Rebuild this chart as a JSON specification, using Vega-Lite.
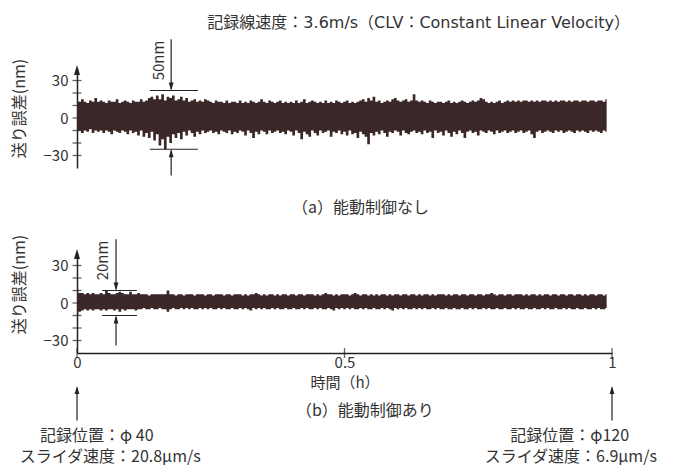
{
"$schema": "https://vega.github.io/schema/vega-lite/v6.json",
"padding": {"left": 11, "top": 14, "right": 5, "bottom": 5},
"background": "white",
"bounds": "flush",
"spacing": 85,
"config": {"view": {"stroke": null}, "font": "Noto Sans CJK JP", "axis": {"labelFont": "Noto Sans CJK JP", "titleFont": "Noto Sans CJK JP", "grid": false}, "text": {"font": "Noto Sans CJK JP", "fontSize": 16, "color": "#333"}},
"datasets": {
"a": [{"t":0,"hi":14,"lo":-11},{"t":0.005,"hi":13,"lo":-10},{"t":0.01,"hi":15,"lo":-12},{"t":0.015,"hi":13,"lo":-10},{"t":0.02,"hi":12,"lo":-11},{"t":0.025,"hi":14,"lo":-9},{"t":0.03,"hi":13,"lo":-12},{"t":0.035,"hi":16,"lo":-10},{"t":0.04,"hi":13,"lo":-11},{"t":0.045,"hi":14,"lo":-10},
{"t":0.05,"hi":13,"lo":-12},{"t":0.055,"hi":12,"lo":-10},{"t":0.06,"hi":14,"lo":-11},{"t":0.065,"hi":13,"lo":-13},{"t":0.07,"hi":13,"lo":-10},{"t":0.075,"hi":15,"lo":-11},{"t":0.08,"hi":12,"lo":-12},{"t":0.085,"hi":13,"lo":-10},{"t":0.09,"hi":14,"lo":-11},{"t":0.095,"hi":13,"lo":-13},
{"t":0.1,"hi":12,"lo":-10},{"t":0.105,"hi":14,"lo":-12},{"t":0.11,"hi":13,"lo":-11},{"t":0.115,"hi":13,"lo":-14},{"t":0.12,"hi":15,"lo":-10},{"t":0.125,"hi":13,"lo":-15},{"t":0.13,"hi":14,"lo":-12},{"t":0.135,"hi":16,"lo":-16},{"t":0.14,"hi":17,"lo":-11},{"t":0.145,"hi":15,"lo":-18},
{"t":0.15,"hi":18,"lo":-13},{"t":0.155,"hi":15,"lo":-22},{"t":0.16,"hi":19,"lo":-17},{"t":0.165,"hi":14,"lo":-25},{"t":0.17,"hi":17,"lo":-15},{"t":0.175,"hi":16,"lo":-20},{"t":0.18,"hi":18,"lo":-13},{"t":0.185,"hi":14,"lo":-16},{"t":0.19,"hi":15,"lo":-12},{"t":0.195,"hi":17,"lo":-17},
{"t":0.2,"hi":14,"lo":-11},{"t":0.205,"hi":16,"lo":-14},{"t":0.21,"hi":13,"lo":-10},{"t":0.215,"hi":14,"lo":-12},{"t":0.22,"hi":15,"lo":-15},{"t":0.225,"hi":13,"lo":-11},{"t":0.23,"hi":14,"lo":-13},{"t":0.235,"hi":13,"lo":-10},{"t":0.24,"hi":15,"lo":-12},{"t":0.245,"hi":14,"lo":-11},
{"t":0.25,"hi":13,"lo":-10},{"t":0.255,"hi":12,"lo":-12},{"t":0.26,"hi":14,"lo":-11},{"t":0.265,"hi":13,"lo":-13},{"t":0.27,"hi":13,"lo":-10},{"t":0.275,"hi":12,"lo":-11},{"t":0.28,"hi":14,"lo":-12},{"t":0.285,"hi":12,"lo":-10},{"t":0.29,"hi":13,"lo":-13},{"t":0.295,"hi":13,"lo":-11},
{"t":0.3,"hi":12,"lo":-12},{"t":0.305,"hi":14,"lo":-10},{"t":0.31,"hi":12,"lo":-11},{"t":0.315,"hi":13,"lo":-14},{"t":0.32,"hi":12,"lo":-10},{"t":0.325,"hi":14,"lo":-12},{"t":0.33,"hi":13,"lo":-16},{"t":0.335,"hi":12,"lo":-11},{"t":0.34,"hi":13,"lo":-13},{"t":0.345,"hi":15,"lo":-10},
{"t":0.35,"hi":13,"lo":-11},{"t":0.355,"hi":12,"lo":-13},{"t":0.36,"hi":14,"lo":-10},{"t":0.365,"hi":13,"lo":-12},{"t":0.37,"hi":12,"lo":-11},{"t":0.375,"hi":13,"lo":-10},{"t":0.38,"hi":14,"lo":-12},{"t":0.385,"hi":12,"lo":-11},{"t":0.39,"hi":13,"lo":-13},{"t":0.395,"hi":12,"lo":-10},
{"t":0.4,"hi":13,"lo":-11},{"t":0.405,"hi":12,"lo":-14},{"t":0.41,"hi":14,"lo":-10},{"t":0.415,"hi":12,"lo":-12},{"t":0.42,"hi":13,"lo":-17},{"t":0.425,"hi":15,"lo":-11},{"t":0.43,"hi":12,"lo":-13},{"t":0.435,"hi":13,"lo":-15},{"t":0.44,"hi":14,"lo":-10},{"t":0.445,"hi":13,"lo":-12},
{"t":0.45,"hi":12,"lo":-14},{"t":0.455,"hi":13,"lo":-10},{"t":0.46,"hi":12,"lo":-12},{"t":0.465,"hi":14,"lo":-11},{"t":0.47,"hi":12,"lo":-10},{"t":0.475,"hi":13,"lo":-15},{"t":0.48,"hi":12,"lo":-11},{"t":0.485,"hi":14,"lo":-12},{"t":0.49,"hi":13,"lo":-10},{"t":0.495,"hi":12,"lo":-13},
{"t":0.5,"hi":13,"lo":-11},{"t":0.505,"hi":14,"lo":-14},{"t":0.51,"hi":12,"lo":-10},{"t":0.515,"hi":13,"lo":-13},{"t":0.52,"hi":12,"lo":-12},{"t":0.525,"hi":13,"lo":-16},{"t":0.53,"hi":14,"lo":-11},{"t":0.535,"hi":15,"lo":-13},{"t":0.54,"hi":13,"lo":-15},{"t":0.545,"hi":16,"lo":-21},
{"t":0.55,"hi":14,"lo":-12},{"t":0.555,"hi":17,"lo":-14},{"t":0.56,"hi":13,"lo":-11},{"t":0.565,"hi":14,"lo":-13},{"t":0.57,"hi":12,"lo":-10},{"t":0.575,"hi":13,"lo":-12},{"t":0.58,"hi":14,"lo":-15},{"t":0.585,"hi":13,"lo":-11},{"t":0.59,"hi":15,"lo":-12},{"t":0.595,"hi":16,"lo":-10},
{"t":0.6,"hi":14,"lo":-11},{"t":0.605,"hi":13,"lo":-14},{"t":0.61,"hi":14,"lo":-10},{"t":0.615,"hi":15,"lo":-12},{"t":0.62,"hi":13,"lo":-13},{"t":0.625,"hi":14,"lo":-11},{"t":0.63,"hi":19,"lo":-10},{"t":0.635,"hi":14,"lo":-12},{"t":0.64,"hi":13,"lo":-11},{"t":0.645,"hi":14,"lo":-13},
{"t":0.65,"hi":13,"lo":-10},{"t":0.655,"hi":12,"lo":-12},{"t":0.66,"hi":14,"lo":-11},{"t":0.665,"hi":13,"lo":-16},{"t":0.67,"hi":12,"lo":-10},{"t":0.675,"hi":13,"lo":-12},{"t":0.68,"hi":13,"lo":-11},{"t":0.685,"hi":12,"lo":-14},{"t":0.69,"hi":13,"lo":-10},{"t":0.695,"hi":14,"lo":-12},
{"t":0.7,"hi":12,"lo":-15},{"t":0.705,"hi":13,"lo":-11},{"t":0.71,"hi":12,"lo":-13},{"t":0.715,"hi":13,"lo":-10},{"t":0.72,"hi":14,"lo":-12},{"t":0.725,"hi":13,"lo":-16},{"t":0.73,"hi":12,"lo":-11},{"t":0.735,"hi":13,"lo":-10},{"t":0.74,"hi":14,"lo":-12},{"t":0.745,"hi":13,"lo":-11},
{"t":0.75,"hi":14,"lo":-14},{"t":0.755,"hi":16,"lo":-10},{"t":0.76,"hi":15,"lo":-11},{"t":0.765,"hi":13,"lo":-12},{"t":0.77,"hi":12,"lo":-10},{"t":0.775,"hi":13,"lo":-11},{"t":0.78,"hi":12,"lo":-13},{"t":0.785,"hi":13,"lo":-10},{"t":0.79,"hi":14,"lo":-12},{"t":0.795,"hi":12,"lo":-11},
{"t":0.8,"hi":13,"lo":-10},{"t":0.805,"hi":14,"lo":-12},{"t":0.81,"hi":13,"lo":-11},{"t":0.815,"hi":14,"lo":-10},{"t":0.82,"hi":13,"lo":-12},{"t":0.825,"hi":14,"lo":-11},{"t":0.83,"hi":13,"lo":-10},{"t":0.835,"hi":14,"lo":-12},{"t":0.84,"hi":14,"lo":-11},{"t":0.845,"hi":13,"lo":-10},
{"t":0.85,"hi":14,"lo":-13},{"t":0.855,"hi":13,"lo":-16},{"t":0.86,"hi":14,"lo":-11},{"t":0.865,"hi":13,"lo":-10},{"t":0.87,"hi":14,"lo":-12},{"t":0.875,"hi":14,"lo":-11},{"t":0.88,"hi":13,"lo":-10},{"t":0.885,"hi":14,"lo":-11},{"t":0.89,"hi":13,"lo":-12},{"t":0.895,"hi":14,"lo":-10},
{"t":0.9,"hi":13,"lo":-11},{"t":0.905,"hi":14,"lo":-10},{"t":0.91,"hi":14,"lo":-12},{"t":0.915,"hi":13,"lo":-11},{"t":0.92,"hi":14,"lo":-10},{"t":0.925,"hi":13,"lo":-11},{"t":0.93,"hi":14,"lo":-12},{"t":0.935,"hi":14,"lo":-10},{"t":0.94,"hi":13,"lo":-11},{"t":0.945,"hi":14,"lo":-10},
{"t":0.95,"hi":14,"lo":-11},{"t":0.955,"hi":13,"lo":-12},{"t":0.96,"hi":14,"lo":-10},{"t":0.965,"hi":14,"lo":-11},{"t":0.97,"hi":13,"lo":-10},{"t":0.975,"hi":14,"lo":-11},{"t":0.98,"hi":14,"lo":-12},{"t":0.985,"hi":13,"lo":-10},{"t":0.99,"hi":15,"lo":-11}],
"b": [{"t":0,"hi":11,"lo":-10},{"t":0.005,"hi":8,"lo":-7},{"t":0.01,"hi":8,"lo":-6},{"t":0.015,"hi":7,"lo":-5},{"t":0.02,"hi":8,"lo":-6},{"t":0.025,"hi":7,"lo":-5},{"t":0.03,"hi":8,"lo":-6},{"t":0.035,"hi":7,"lo":-5},{"t":0.04,"hi":7,"lo":-5},{"t":0.045,"hi":8,"lo":-6},
{"t":0.05,"hi":7,"lo":-5},{"t":0.055,"hi":10,"lo":-6},{"t":0.06,"hi":8,"lo":-5},{"t":0.065,"hi":7,"lo":-5},{"t":0.07,"hi":7,"lo":-6},{"t":0.075,"hi":8,"lo":-5},{"t":0.08,"hi":9,"lo":-7},{"t":0.085,"hi":8,"lo":-5},{"t":0.09,"hi":7,"lo":-6},{"t":0.095,"hi":7,"lo":-5},
{"t":0.1,"hi":9,"lo":-5},{"t":0.105,"hi":7,"lo":-5},{"t":0.11,"hi":7,"lo":-6},{"t":0.115,"hi":8,"lo":-5},{"t":0.12,"hi":7,"lo":-5},{"t":0.125,"hi":7,"lo":-4},{"t":0.13,"hi":7,"lo":-5},{"t":0.135,"hi":6,"lo":-5},{"t":0.14,"hi":7,"lo":-4},{"t":0.145,"hi":7,"lo":-5},
{"t":0.15,"hi":7,"lo":-5},{"t":0.155,"hi":7,"lo":-4},{"t":0.16,"hi":7,"lo":-5},{"t":0.165,"hi":7,"lo":-5},{"t":0.17,"hi":10,"lo":-7},{"t":0.175,"hi":7,"lo":-5},{"t":0.18,"hi":7,"lo":-4},{"t":0.185,"hi":6,"lo":-5},{"t":0.19,"hi":7,"lo":-5},{"t":0.195,"hi":7,"lo":-4},
{"t":0.2,"hi":6,"lo":-5},{"t":0.205,"hi":7,"lo":-4},{"t":0.21,"hi":7,"lo":-5},{"t":0.215,"hi":7,"lo":-4},{"t":0.22,"hi":6,"lo":-5},{"t":0.225,"hi":7,"lo":-5},{"t":0.23,"hi":7,"lo":-4},{"t":0.235,"hi":7,"lo":-5},{"t":0.24,"hi":6,"lo":-4},{"t":0.245,"hi":7,"lo":-5},
{"t":0.25,"hi":7,"lo":-4},{"t":0.255,"hi":6,"lo":-5},{"t":0.26,"hi":7,"lo":-5},{"t":0.265,"hi":7,"lo":-4},{"t":0.27,"hi":7,"lo":-5},{"t":0.275,"hi":6,"lo":-4},{"t":0.28,"hi":7,"lo":-5},{"t":0.285,"hi":7,"lo":-5},{"t":0.29,"hi":6,"lo":-4},{"t":0.295,"hi":7,"lo":-5},
{"t":0.3,"hi":7,"lo":-5},{"t":0.305,"hi":7,"lo":-4},{"t":0.31,"hi":6,"lo":-5},{"t":0.315,"hi":7,"lo":-4},{"t":0.32,"hi":6,"lo":-5},{"t":0.325,"hi":7,"lo":-6},{"t":0.33,"hi":7,"lo":-4},{"t":0.335,"hi":8,"lo":-5},{"t":0.34,"hi":7,"lo":-4},{"t":0.345,"hi":6,"lo":-5},
{"t":0.35,"hi":7,"lo":-4},{"t":0.355,"hi":6,"lo":-5},{"t":0.36,"hi":7,"lo":-5},{"t":0.365,"hi":7,"lo":-4},{"t":0.37,"hi":6,"lo":-5},{"t":0.375,"hi":7,"lo":-4},{"t":0.38,"hi":6,"lo":-5},{"t":0.385,"hi":7,"lo":-5},{"t":0.39,"hi":7,"lo":-4},{"t":0.395,"hi":6,"lo":-5},
{"t":0.4,"hi":7,"lo":-5},{"t":0.405,"hi":7,"lo":-4},{"t":0.41,"hi":6,"lo":-5},{"t":0.415,"hi":7,"lo":-5},{"t":0.42,"hi":7,"lo":-4},{"t":0.425,"hi":6,"lo":-5},{"t":0.43,"hi":7,"lo":-4},{"t":0.435,"hi":7,"lo":-5},{"t":0.44,"hi":7,"lo":-5},{"t":0.445,"hi":6,"lo":-4},
{"t":0.45,"hi":7,"lo":-5},{"t":0.455,"hi":6,"lo":-4},{"t":0.46,"hi":7,"lo":-5},{"t":0.465,"hi":8,"lo":-5},{"t":0.47,"hi":7,"lo":-4},{"t":0.475,"hi":7,"lo":-5},{"t":0.48,"hi":6,"lo":-6},{"t":0.485,"hi":7,"lo":-4},{"t":0.49,"hi":6,"lo":-5},{"t":0.495,"hi":7,"lo":-4},
{"t":0.5,"hi":7,"lo":-5},{"t":0.505,"hi":7,"lo":-4},{"t":0.51,"hi":6,"lo":-5},{"t":0.515,"hi":7,"lo":-4},{"t":0.52,"hi":8,"lo":-5},{"t":0.525,"hi":7,"lo":-5},{"t":0.53,"hi":6,"lo":-4},{"t":0.535,"hi":7,"lo":-5},{"t":0.54,"hi":7,"lo":-4},{"t":0.545,"hi":6,"lo":-5},
{"t":0.55,"hi":7,"lo":-5},{"t":0.555,"hi":6,"lo":-4},{"t":0.56,"hi":7,"lo":-5},{"t":0.565,"hi":6,"lo":-5},{"t":0.57,"hi":7,"lo":-4},{"t":0.575,"hi":7,"lo":-5},{"t":0.58,"hi":6,"lo":-4},{"t":0.585,"hi":7,"lo":-5},{"t":0.59,"hi":6,"lo":-6},{"t":0.595,"hi":7,"lo":-4},
{"t":0.6,"hi":7,"lo":-5},{"t":0.605,"hi":6,"lo":-4},{"t":0.61,"hi":7,"lo":-5},{"t":0.615,"hi":7,"lo":-4},{"t":0.62,"hi":6,"lo":-5},{"t":0.625,"hi":7,"lo":-5},{"t":0.63,"hi":7,"lo":-4},{"t":0.635,"hi":6,"lo":-5},{"t":0.64,"hi":7,"lo":-4},{"t":0.645,"hi":6,"lo":-5},
{"t":0.65,"hi":7,"lo":-4},{"t":0.655,"hi":7,"lo":-5},{"t":0.66,"hi":6,"lo":-5},{"t":0.665,"hi":7,"lo":-4},{"t":0.67,"hi":6,"lo":-5},{"t":0.675,"hi":7,"lo":-4},{"t":0.68,"hi":7,"lo":-5},{"t":0.685,"hi":7,"lo":-5},{"t":0.69,"hi":6,"lo":-4},{"t":0.695,"hi":7,"lo":-5},
{"t":0.7,"hi":6,"lo":-5},{"t":0.705,"hi":7,"lo":-4},{"t":0.71,"hi":7,"lo":-5},{"t":0.715,"hi":6,"lo":-5},{"t":0.72,"hi":7,"lo":-4},{"t":0.725,"hi":7,"lo":-5},{"t":0.73,"hi":6,"lo":-5},{"t":0.735,"hi":7,"lo":-4},{"t":0.74,"hi":7,"lo":-5},{"t":0.745,"hi":6,"lo":-4},
{"t":0.75,"hi":7,"lo":-5},{"t":0.755,"hi":7,"lo":-5},{"t":0.76,"hi":6,"lo":-4},{"t":0.765,"hi":7,"lo":-5},{"t":0.77,"hi":7,"lo":-4},{"t":0.775,"hi":8,"lo":-5},{"t":0.78,"hi":7,"lo":-5},{"t":0.785,"hi":6,"lo":-4},{"t":0.79,"hi":7,"lo":-5},{"t":0.795,"hi":7,"lo":-5},
{"t":0.8,"hi":6,"lo":-4},{"t":0.805,"hi":7,"lo":-5},{"t":0.81,"hi":7,"lo":-5},{"t":0.815,"hi":6,"lo":-4},{"t":0.82,"hi":7,"lo":-5},{"t":0.825,"hi":7,"lo":-4},{"t":0.83,"hi":7,"lo":-5},{"t":0.835,"hi":6,"lo":-5},{"t":0.84,"hi":7,"lo":-4},{"t":0.845,"hi":6,"lo":-5},
{"t":0.85,"hi":7,"lo":-5},{"t":0.855,"hi":7,"lo":-4},{"t":0.86,"hi":6,"lo":-5},{"t":0.865,"hi":7,"lo":-5},{"t":0.87,"hi":6,"lo":-4},{"t":0.875,"hi":7,"lo":-5},{"t":0.88,"hi":7,"lo":-4},{"t":0.885,"hi":6,"lo":-5},{"t":0.89,"hi":7,"lo":-5},{"t":0.895,"hi":7,"lo":-4},
{"t":0.9,"hi":6,"lo":-5},{"t":0.905,"hi":7,"lo":-5},{"t":0.91,"hi":7,"lo":-4},{"t":0.915,"hi":6,"lo":-5},{"t":0.92,"hi":7,"lo":-4},{"t":0.925,"hi":7,"lo":-5},{"t":0.93,"hi":6,"lo":-5},{"t":0.935,"hi":7,"lo":-4},{"t":0.94,"hi":7,"lo":-5},{"t":0.945,"hi":6,"lo":-5},
{"t":0.95,"hi":7,"lo":-4},{"t":0.955,"hi":6,"lo":-5},{"t":0.96,"hi":7,"lo":-5},{"t":0.965,"hi":7,"lo":-4},{"t":0.97,"hi":6,"lo":-5},{"t":0.975,"hi":7,"lo":-4},{"t":0.98,"hi":7,"lo":-5},{"t":0.985,"hi":6,"lo":-5},{"t":0.99,"hi":7,"lo":-4}],
"yt": [{"v":-30},{"v":-20},{"v":-10},{"v":0},{"v":10},{"v":20},{"v":30}],
"xt": [{"v":0},{"v":0.5},{"v":1}]
},
"vconcat": [
{
"width": 535, "height": 100,
"title": {"text": "記録線速度：3.6m/s（CLV：Constant Linear Velocity）", "anchor": "end", "frame": "group", "dx": 18, "offset": 8, "fontSize": 16, "fontWeight": "normal", "color": "#333", "font": "DejaVu Sans, Noto Sans CJK JP"},
"layer": [
{"data": {"name": "a"}, "mark": {"type": "area", "interpolate": "step", "color": "#3b2727", "opacity": 1},
 "encoding": {
  "x": {"field": "t", "type": "quantitative", "scale": {"domain": [0, 1], "nice": false, "zero": false}, "axis": null},
  "y": {"field": "hi", "type": "quantitative", "scale": {"domain": [-40, 40], "nice": false, "zero": false},
        "axis": {"title": "送り誤差(nm)", "values": [-30, 0, 30], "ticks": false, "domainColor": "#222", "domainWidth": 1.5, "labelPadding": 9, "labelFontSize": 15, "labelColor": "#333", "titleFontSize": 16, "titleFontWeight": "normal", "titleColor": "#333", "titlePadding": 16, "titleY": 40}},
  "y2": {"field": "lo"}}},
{"data": {"name": "yt"}, "mark": {"type": "tick", "orient": "horizontal", "size": 9, "thickness": 1.3, "color": "#222"},
 "encoding": {"x": {"datum": 0, "type": "quantitative", "axis": null}, "y": {"field": "v", "type": "quantitative"}}},
{"data": {"values": [{}]}, "mark": {"type": "point", "shape": "M-0.6,1L0.6,1L0,-1Z", "filled": true, "size": 100, "color": "#222", "opacity": 1},
 "encoding": {"x": {"datum": 0, "type": "quantitative", "axis": null}, "y": {"datum": 38.4, "type": "quantitative"}}},
{"data": {"values": [{}]}, "mark": {"type": "rule", "color": "#222", "strokeWidth": 1.2},
 "encoding": {"x": {"datum": 0.136, "type": "quantitative", "axis": null}, "x2": {"datum": 0.226}, "y": {"datum": 22, "type": "quantitative"}}},
{"data": {"values": [{}]}, "mark": {"type": "rule", "color": "#222", "strokeWidth": 1.2},
 "encoding": {"x": {"datum": 0.136, "type": "quantitative", "axis": null}, "x2": {"datum": 0.226}, "y": {"datum": -25, "type": "quantitative"}}},
{"data": {"values": [{}]}, "mark": {"type": "rule", "color": "#222", "strokeWidth": 1.2},
 "encoding": {"x": {"datum": 0.176, "type": "quantitative", "axis": null}, "y": {"datum": 63, "type": "quantitative"}, "y2": {"datum": 23}}},
{"data": {"values": [{}]}, "mark": {"type": "rule", "color": "#222", "strokeWidth": 1.2},
 "encoding": {"x": {"datum": 0.176, "type": "quantitative", "axis": null}, "y": {"datum": -46, "type": "quantitative"}, "y2": {"datum": -26}}},
{"data": {"values": [{}]}, "mark": {"type": "point", "shape": "M-0.6,-1L0.6,-1L0,1Z", "filled": true, "size": 64, "color": "#222", "opacity": 1},
 "encoding": {"x": {"datum": 0.176, "type": "quantitative", "axis": null}, "y": {"datum": 25.2, "type": "quantitative"}}},
{"data": {"values": [{}]}, "mark": {"type": "point", "shape": "M-0.6,1L0.6,1L0,-1Z", "filled": true, "size": 64, "color": "#222", "opacity": 1},
 "encoding": {"x": {"datum": 0.176, "type": "quantitative", "axis": null}, "y": {"datum": -28.2, "type": "quantitative"}}},
{"data": {"values": [{}]}, "mark": {"type": "text", "text": "50nm", "angle": 270, "align": "center", "baseline": "middle", "fontSize": 15},
 "encoding": {"x": {"datum": 0.153, "type": "quantitative", "axis": null}, "y": {"datum": 46, "type": "quantitative"}}},
{"data": {"values": [{}]}, "mark": {"type": "text", "text": "（a）能動制御なし", "align": "center", "baseline": "middle", "fontSize": 16},
 "encoding": {"x": {"datum": 0.53, "type": "quantitative", "axis": null}, "y": {"datum": -72, "type": "quantitative"}}}
]
},
{
"width": 535, "height": 100,
"layer": [
{"data": {"name": "b"}, "mark": {"type": "area", "interpolate": "step", "color": "#3b2727", "opacity": 1},
 "encoding": {
  "x": {"field": "t", "type": "quantitative", "scale": {"domain": [0, 1], "nice": false, "zero": false},
        "axis": {"title": "時間（h）", "values": [0, 0.5, 1], "format": "~g", "ticks": false, "domainColor": "#222", "domainWidth": 1.5, "labelPadding": 2, "labelFlush": false, "labelFontSize": 15, "labelColor": "#333", "titleFontSize": 15, "titleFontWeight": "normal", "titleColor": "#333", "titlePadding": 5}},
  "y": {"field": "hi", "type": "quantitative", "scale": {"domain": [-40, 40], "nice": false, "zero": false},
        "axis": {"title": "送り誤差(nm)", "values": [-30, 0, 30], "ticks": false, "domainColor": "#222", "domainWidth": 1.5, "labelPadding": 9, "labelFontSize": 15, "labelColor": "#333", "titleFontSize": 16, "titleFontWeight": "normal", "titleColor": "#333", "titlePadding": 16, "titleY": 31}},
  "y2": {"field": "lo"}}},
{"data": {"name": "yt"}, "mark": {"type": "tick", "orient": "horizontal", "size": 9, "thickness": 1.3, "color": "#222"},
 "encoding": {"x": {"datum": 0, "type": "quantitative"}, "y": {"field": "v", "type": "quantitative"}}},
{"data": {"name": "xt"}, "mark": {"type": "tick", "orient": "vertical", "size": 10, "thickness": 1.3, "color": "#222"},
 "encoding": {"x": {"field": "v", "type": "quantitative"}, "y": {"datum": -40, "type": "quantitative"}}},
{"data": {"values": [{}]}, "mark": {"type": "point", "shape": "M-0.6,1L0.6,1L0,-1Z", "filled": true, "size": 100, "color": "#222", "opacity": 1},
 "encoding": {"x": {"datum": 0, "type": "quantitative"}, "y": {"datum": 39.2, "type": "quantitative"}}},
{"data": {"values": [{}]}, "mark": {"type": "rule", "color": "#222", "strokeWidth": 1.2},
 "encoding": {"x": {"datum": 0.047, "type": "quantitative"}, "x2": {"datum": 0.112}, "y": {"datum": 10, "type": "quantitative"}}},
{"data": {"values": [{}]}, "mark": {"type": "rule", "color": "#222", "strokeWidth": 1.2},
 "encoding": {"x": {"datum": 0.047, "type": "quantitative"}, "x2": {"datum": 0.112}, "y": {"datum": -10, "type": "quantitative"}}},
{"data": {"values": [{}]}, "mark": {"type": "rule", "color": "#222", "strokeWidth": 1.2},
 "encoding": {"x": {"datum": 0.073, "type": "quantitative"}, "y": {"datum": 51, "type": "quantitative"}, "y2": {"datum": 11}}},
{"data": {"values": [{}]}, "mark": {"type": "rule", "color": "#222", "strokeWidth": 1.2},
 "encoding": {"x": {"datum": 0.073, "type": "quantitative"}, "y": {"datum": -34, "type": "quantitative"}, "y2": {"datum": -11}}},
{"data": {"values": [{}]}, "mark": {"type": "point", "shape": "M-0.6,-1L0.6,-1L0,1Z", "filled": true, "size": 64, "color": "#222", "opacity": 1},
 "encoding": {"x": {"datum": 0.073, "type": "quantitative"}, "y": {"datum": 13.2, "type": "quantitative"}}},
{"data": {"values": [{}]}, "mark": {"type": "point", "shape": "M-0.6,1L0.6,1L0,-1Z", "filled": true, "size": 64, "color": "#222", "opacity": 1},
 "encoding": {"x": {"datum": 0.073, "type": "quantitative"}, "y": {"datum": -13.2, "type": "quantitative"}}},
{"data": {"values": [{}]}, "mark": {"type": "text", "text": "20nm", "angle": 270, "align": "center", "baseline": "middle", "fontSize": 15},
 "encoding": {"x": {"datum": 0.049, "type": "quantitative"}, "y": {"datum": 34, "type": "quantitative"}}},
{"data": {"values": [{}]}, "mark": {"type": "text", "text": "（b）能動制御あり", "align": "center", "baseline": "middle", "fontSize": 16},
 "encoding": {"x": {"datum": 0.538, "type": "quantitative"}, "y": {"datum": -86, "type": "quantitative"}}},
{"data": {"values": [{}]}, "mark": {"type": "rule", "color": "#222", "strokeWidth": 1.2},
 "encoding": {"x": {"datum": 0, "type": "quantitative"}, "y": {"datum": -68, "type": "quantitative"}, "y2": {"datum": -94}}},
{"data": {"values": [{}]}, "mark": {"type": "rule", "color": "#222", "strokeWidth": 1.2},
 "encoding": {"x": {"datum": 1, "type": "quantitative"}, "y": {"datum": -68, "type": "quantitative"}, "y2": {"datum": -94}}},
{"data": {"values": [{}]}, "mark": {"type": "point", "shape": "M-0.6,1L0.6,1L0,-1Z", "filled": true, "size": 64, "color": "#222", "opacity": 1},
 "encoding": {"x": {"datum": 0, "type": "quantitative"}, "y": {"datum": -69.6, "type": "quantitative"}}},
{"data": {"values": [{}]}, "mark": {"type": "point", "shape": "M-0.6,1L0.6,1L0,-1Z", "filled": true, "size": 64, "color": "#222", "opacity": 1},
 "encoding": {"x": {"datum": 1, "type": "quantitative"}, "y": {"datum": -69.6, "type": "quantitative"}}},
{"data": {"values": [{}]}, "mark": {"type": "text", "text": "記録位置：φ 40", "align": "center", "baseline": "middle", "fontSize": 16},
 "encoding": {"x": {"datum": 0.037, "type": "quantitative"}, "y": {"datum": -106, "type": "quantitative"}}},
{"data": {"values": [{}]}, "mark": {"type": "text", "text": "スライダ速度：20.8μm/s", "align": "center", "baseline": "middle", "fontSize": 16},
 "encoding": {"x": {"datum": 0.062, "type": "quantitative"}, "y": {"datum": -123, "type": "quantitative"}}},
{"data": {"values": [{}]}, "mark": {"type": "text", "text": "記録位置：φ120", "align": "center", "baseline": "middle", "fontSize": 16},
 "encoding": {"x": {"datum": 0.921, "type": "quantitative"}, "y": {"datum": -106, "type": "quantitative"}}},
{"data": {"values": [{}]}, "mark": {"type": "text", "text": "スライダ速度：6.9μm/s", "align": "center", "baseline": "middle", "fontSize": 16},
 "encoding": {"x": {"datum": 0.923, "type": "quantitative"}, "y": {"datum": -123, "type": "quantitative"}}}
]
}
]
}
